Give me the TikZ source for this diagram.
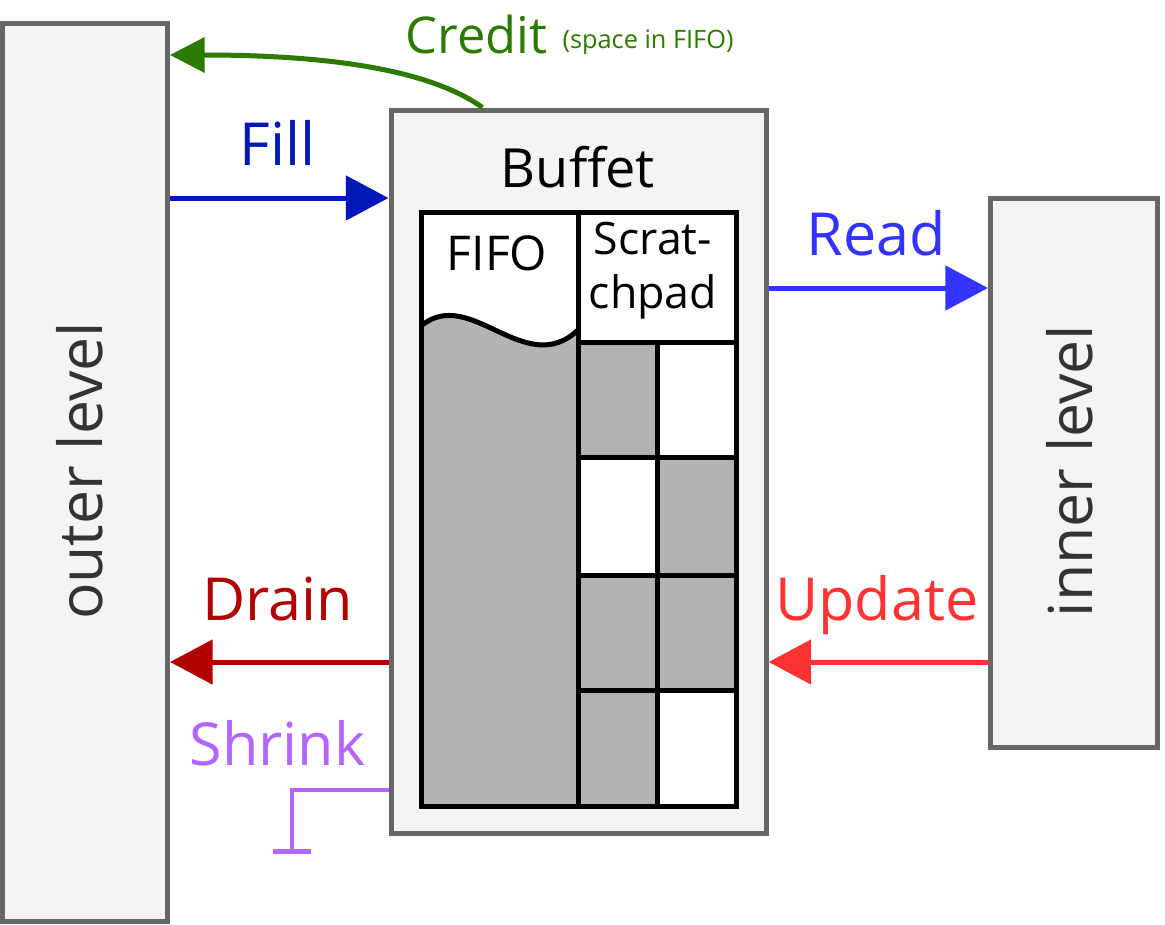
\documentclass[tikz,border=0pt]{standalone}
\usepackage{fontspec}
\setmainfont{Open Sans}
\usetikzlibrary{arrows.meta,fit}

\definecolor{boxgray}{RGB}{102,102,102}
\definecolor{boxfill}{RGB}{244,244,244}
\definecolor{cellgray}{RGB}{179,179,179}
\definecolor{lvltext}{RGB}{51,51,51}
\definecolor{creditgreen}{RGB}{45,122,0}
\definecolor{fillblue}{RGB}{0,24,184}
\definecolor{readblue}{RGB}{51,51,255}
\definecolor{drainred}{RGB}{176,0,0}
\definecolor{updatered}{RGB}{255,51,51}
\definecolor{shrinkpurple}{RGB}{179,102,255}

\tikzset{every picture/.style={line width=0.75pt}}
\tikzset{
  levelbox/.style={draw=boxgray, fill=boxfill, line width=3.75pt, inner sep=0pt},
  gridline/.style={draw=black, line width=3.75pt},
  biglabel/.style={inner sep=0pt, font=\fontsize{44.5}{53}\selectfont},
  flow/.style={line width=3.75pt, -{Triangle[length=32pt,width=33pt]}},
  creditflow/.style={creditgreen, line width=3.75pt, -{Triangle[length=26pt,width=26pt]}},
  shrinkline/.style={shrinkpurple, line width=3.5pt, -{Bar[width=29pt,line width=3.75pt]}},
}

\begin{document}
\begin{tikzpicture}[x=0.75pt,y=0.75pt,yscale=-1,xscale=1]
\useasboundingbox (0,0) rectangle (1165,925);

%Shape: Rectangle [outer level]
\node [levelbox, fit={(2,23) (167.5,921.5)}] (outer) {};
%Shape: Rectangle [inner level]
\node [levelbox, fit={(990.5,198) (1157,747)}] (inner) {};
%Shape: Rectangle [buffet]
\node [levelbox, fit={(391,110) (766,833)}] (buffet) {};

%Shape: Rectangle [storage frame]
\fill [white] (421,212) rectangle (736,806);
%Shape: Wave [fifo contents]
\fill [cellgray] (421,326) .. controls (470,285) and (525,380) .. (578,330) -- (578,806) -- (421,806) -- cycle;
%Shape: Rectangles [scratchpad cells]
\fill [cellgray] (578,342) rectangle (657,457);
\fill [cellgray] (657,457) rectangle (736,575);
\fill [cellgray] (578,575) rectangle (736,690);
\fill [cellgray] (578,690) rectangle (657,806);

%Straight Lines [frame and grid]
\draw [gridline] (421,326) .. controls (470,285) and (525,380) .. (578,330);
\draw [gridline] (421,212) rectangle (736,806);
\draw [gridline] (578,212) -- (578,806);
\draw [gridline] (578,342) -- (736,342);
\draw [gridline] (578,457) -- (736,457);
\draw [gridline] (578,575) -- (736,575);
\draw [gridline] (578,690) -- (736,690);
\draw [gridline] (657,342) -- (657,806);

%Curve Lines [credit]
\draw [creditflow] ([xshift=70.5pt]buffet.north west) .. controls (430,70) and (330,55) .. (outer.east |- 0,55);
%Straight Lines [fill]
\draw [flow, fillblue] (outer.east |- 0,198) -- (buffet.west |- 0,198);
%Straight Lines [drain]
\draw [flow, drainred] (buffet.west |- 0,662) -- (outer.east |- 0,662);
%Straight Lines [read]
\draw [flow, readblue] (buffet.east |- 0,288) -- (inner.west |- 0,288);
%Straight Lines [update]
\draw [flow, updatered] (inner.west |- 0,662) -- (buffet.east |- 0,662);
%Straight Lines [shrink]
\coordinate (shrinkend) at (292,854);
\draw [shrinkline] (buffet.west |- 0,790) -| (shrinkend);

% Text Node
\node [biglabel, text=lvltext, rotate=90, font=\fontsize{45.5}{54}\selectfont] (outertext) at (80,471) {outer level};
% Text Node
\node [biglabel, text=lvltext, rotate=90, font=\fontsize{45.5}{54}\selectfont] (innertext) at (1070,471) {inner level};
% Text Node
\node [inner sep=0pt, anchor=base, font=\fontsize{40.5}{48}\selectfont] (buffettext) at (578,187) {Buffet};
% Text Node
\node [inner sep=0pt, anchor=base, font=\fontsize{36}{43}\selectfont] (fifotext) at (497,270) {FIFO};
% Text Node
\node [inner sep=0pt, anchor=base, align=center, font=\fontsize{33.5}{40}\selectfont] (scratchtext) at (653,308) {Scrat-\\chpad};
% Text Node
\node [inner sep=0pt, anchor=base west, text=creditgreen, font=\fontsize{38}{45}\selectfont] (credittext) at (405,53) {Credit};
% Text Node
\node [inner sep=0pt, anchor=base west, text=creditgreen, font=\fontsize{19}{23}\selectfont] (creditnote) at (562,48) {(space in FIFO)};
% Text Node
\node [biglabel, anchor=base, text=fillblue] (filltext) at (277.5,165) {Fill};
% Text Node
\node [biglabel, anchor=base, text=drainred] (draintext) at (277.5,620) {Drain};
% Text Node
\node [biglabel, anchor=base, text=shrinkpurple] (shrinktext) at (277.5,765) {Shrink};
% Text Node
\node [biglabel, anchor=base, text=readblue] (readtext) at (876,255) {Read};
% Text Node
\node [biglabel, anchor=base, text=updatered] (updatetext) at (877,620) {Update};

\end{tikzpicture}
\end{document}
